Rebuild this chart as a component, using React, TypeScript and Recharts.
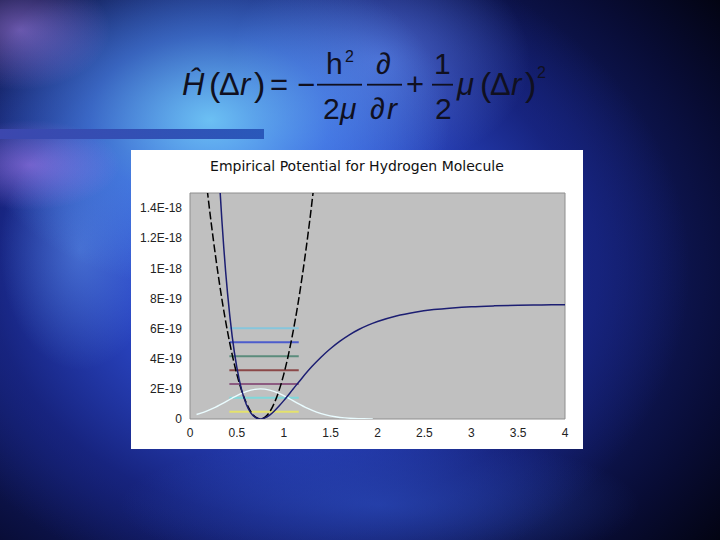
import React from "react";
import { LineChart, Line, XAxis, YAxis, ReferenceArea } from "recharts";

// ---- axis ticks (energy values in units of 1E-19 J, distance in Å) ----
const xTicks = [0, 0.5, 1, 1.5, 2, 2.5, 3, 3.5, 4];
const xTickLabels = ["0", "0.5", "1", "1.5", "2", "2.5", "3", "3.5", "4"];
const yTicks = [0, 2, 4, 6, 8, 10, 12, 14];
const yTickLabels = ["0", "2E-19", "4E-19", "6E-19", "8E-19", "1E-18", "1.2E-18", "1.4E-18"];

// ---- Morse-like empirical potential (navy solid) ----
const morseR = [0.28, 0.3, 0.32, 0.34, 0.36, 0.38, 0.4, 0.45, 0.5, 0.55, 0.6, 0.65, 0.7, 0.75, 0.8, 0.85, 0.9, 0.95, 1.0, 1.1, 1.2, 1.3, 1.4, 1.5, 1.6, 1.7, 1.8, 1.9, 2.0, 2.2, 2.4, 2.6, 2.8, 3.0, 3.25, 3.5, 3.75, 4.0];
const morseV = [19.97, 17.46, 15.21, 13.19, 11.4, 9.79, 8.37, 5.49, 3.41, 1.95, 0.985, 0.393, 0.088, 0, 0.072, 0.261, 0.533, 0.86, 1.22, 1.99, 2.76, 3.48, 4.12, 4.68, 5.17, 5.59, 5.94, 6.23, 6.47, 6.84, 7.09, 7.26, 7.37, 7.45, 7.51, 7.55, 7.57, 7.58];

// ---- harmonic approximation (black dashed) ----
const harmR = [0.17, 0.2, 0.25, 0.3, 0.35, 0.4, 0.45, 0.5, 0.55, 0.6, 0.65, 0.7, 0.75, 0.8, 0.85, 0.9, 0.95, 1.0, 1.05, 1.1, 1.15, 1.2, 1.25, 1.3, 1.33];
const harmV = [15.95, 14.34, 11.85, 9.6, 7.58, 5.81, 4.27, 2.96, 1.9, 1.07, 0.47, 0.12, 0, 0.12, 0.47, 1.07, 1.9, 2.96, 4.27, 5.81, 7.58, 9.6, 11.85, 14.34, 15.95];

// ---- ground-state wavefunction (white) ----
const waveR = [0.07, 0.15, 0.25, 0.35, 0.45, 0.55, 0.65, 0.75, 0.85, 0.95, 1.05, 1.15, 1.25, 1.35, 1.45, 1.55, 1.65, 1.75, 1.85, 1.95];
const waveV = [0.3, 0.46, 0.72, 1.04, 1.39, 1.7, 1.92, 2.0, 1.92, 1.7, 1.39, 1.04, 0.72, 0.46, 0.27, 0.15, 0.073, 0.034, 0.014, 0.006];

// ---- vibrational energy levels ----
const levelR = [0.42, 1.16];
const levelValues = [0.48, 1.41, 2.33, 3.24, 4.17, 5.09, 6.02];
const levelColors = ["#e4e26c", "#7fd8da", "#8c5a80", "#8b4848", "#5b8c7c", "#4d5ccc", "#86c6dc"];

const toPts = (xs: number[], ys: number[]) => xs.map((x, i) => ({ x, y: ys[i] }));

const morseData = toPts(morseR, morseV);
const harmData = toPts(harmR, harmV);
const waveData = toPts(waveR, waveV);

const xFmt = (v: number) => {
  const i = xTicks.indexOf(v);
  return i >= 0 ? xTickLabels[i] : String(v);
};
const yFmt = (v: number) => {
  const i = yTicks.indexOf(v);
  return i >= 0 ? yTickLabels[i] : String(v);
};

const tickStyle = { fontFamily: "Liberation Sans, Arial, sans-serif", fontSize: 12, fill: "#222" };

const bg = [
  "radial-gradient(ellipse 90px 60px at 20px 30px, rgba(180,140,250,0.55), rgba(180,140,250,0) 100%)",
  "radial-gradient(ellipse 90px 45px at 30px 165px, rgba(190,130,250,0.5), rgba(190,130,250,0) 100%)",
  "radial-gradient(ellipse 240px 170px at 210px 120px, rgba(120,215,255,0.85), rgba(90,165,255,0.5) 50%, rgba(80,140,255,0) 100%)",
  "radial-gradient(ellipse 80px 120px at 80px 250px, rgba(110,170,250,0.45), rgba(110,170,250,0) 100%)",
  "radial-gradient(ellipse 150px 110px at 380px 60px, rgba(110,150,255,0.55), rgba(110,150,255,0) 100%)",
  "radial-gradient(ellipse 260px 70px at 380px 505px, rgba(50,90,210,0.5), rgba(50,90,210,0) 100%)",
  "radial-gradient(ellipse 400px 330px at 290px 270px, #3a64e2 0%, #2a46c4 40%, rgba(26,40,140,0.6) 75%, rgba(20,30,110,0) 100%)",
  "radial-gradient(ellipse 560px 440px at 290px 270px, #1d2f9c 0%, #121d6a 55%, #080c34 82%, #02030f 100%)",
].join(",");

const fTxt = { fontFamily: "Liberation Sans, Arial, sans-serif", fill: "#101020" } as const;

function Formula() {
  return (
    <svg width={720} height={150} style={{ position: "absolute", left: 0, top: 0 }}>
      <g {...fTxt}>
        <text x={182} y={94.5} fontSize={31} fontStyle="italic">Ĥ</text>
        <text x={209} y={96} fontSize={34}>(</text>
        <text x={219} y={94.5} fontSize={31}>Δ</text>
        <text x={240} y={94.5} fontSize={31} fontStyle="italic">r</text>
        <text x={254} y={96} fontSize={34}>)</text>
        <text x={270} y={94.5} fontSize={31}>=</text>
        <text x={297} y={94.5} fontSize={31}>−</text>
        <rect x={317} y={83.8} width={45} height={1.8} fill="#101020" />
        <text x={326} y={74} fontSize={30}>h</text>
        <text x={345} y={62} fontSize={16}>2</text>
        <text x={323} y={119} fontSize={30}>2</text>
        <text x={340} y={119} fontSize={30} fontStyle="italic">μ</text>
        <rect x={367} y={83.8} width={35} height={1.8} fill="#101020" />
        <text x={376} y={74} fontSize={30}>∂</text>
        <text x={370} y={119} fontSize={30}>∂</text>
        <text x={387} y={119} fontSize={30} fontStyle="italic">r</text>
        <text x={406} y={94.5} fontSize={31}>+</text>
        <rect x={432} y={83.8} width={21} height={1.8} fill="#101020" />
        <text x={434} y={74} fontSize={30}>1</text>
        <text x={435} y={119} fontSize={30}>2</text>
        <text x={457} y={94.5} fontSize={31} fontStyle="italic">μ</text>
        <text x={480} y={96} fontSize={34}>(</text>
        <text x={490} y={94.5} fontSize={31}>Δ</text>
        <text x={511} y={94.5} fontSize={31} fontStyle="italic">r</text>
        <text x={525} y={96} fontSize={34}>)</text>
        <text x={537} y={78} fontSize={16}>2</text>
      </g>
    </svg>
  );
}

export default function App() {
  return (
    <div
      style={{
        position: "absolute",
        left: 0,
        top: 0,
        width: 720,
        height: 540,
        overflow: "hidden",
        background: bg,
      }}
    >
      <Formula />
      <div
        style={{
          position: "absolute",
          left: 0,
          top: 129,
          width: 264,
          height: 10,
          background: "linear-gradient(90deg, #3c47ae, #2a58ba)",
        }}
      />
      <div
        style={{
          position: "absolute",
          left: 131,
          top: 150,
          width: 452,
          height: 299,
          background: "#ffffff",
        }}
      >
        <svg width={452} height={30} style={{ position: "absolute", left: 0, top: 0 }}>
          <text
            x={226}
            y={21}
            textAnchor="middle"
            fontFamily="DejaVu Sans, sans-serif"
            fontSize={14}
            fill="#111"
          >
            Empirical Potential for Hydrogen Molecule
          </text>
        </svg>
        <LineChart width={452} height={299} margin={{ top: 43, right: 18, bottom: 0, left: 0 }}>
          <XAxis
            type="number"
            dataKey="x"
            domain={[0, 4]}
            ticks={xTicks}
            tickFormatter={xFmt}
            allowDataOverflow
            axisLine={false}
            tickLine={false}
            tick={tickStyle}
            tickMargin={3}
            height={30}
          />
          <YAxis
            type="number"
            dataKey="y"
            domain={[0, 15]}
            ticks={yTicks}
            tickFormatter={yFmt}
            allowDataOverflow
            axisLine={false}
            tickLine={false}
            tick={tickStyle}
            width={59}
          />
          <ReferenceArea x1={0} x2={4} y1={0} y2={15} fill="#c0c0c0" fillOpacity={1} stroke="#8e8e8e" strokeWidth={1} />
          {levelValues.map((lv, i) => (
            <Line
              key={"lv" + i}
              data={levelR.map((x) => ({ x, y: lv }))}
              dataKey="y"
              stroke={levelColors[i]}
              strokeWidth={2}
              dot={false}
              activeDot={false}
              isAnimationActive={false}
            />
          ))}
          <Line
            data={waveData}
            dataKey="y"
            type="monotone"
            stroke="#eafcff"
            strokeWidth={1.4}
            dot={false}
            activeDot={false}
            isAnimationActive={false}
          />
          <Line
            data={harmData}
            dataKey="y"
            type="monotone"
            stroke="#000000"
            strokeWidth={1.5}
            strokeDasharray="8 3"
            dot={false}
            activeDot={false}
            isAnimationActive={false}
          />
          <Line
            data={morseData}
            dataKey="y"
            type="monotone"
            stroke="#1c1e72"
            strokeWidth={1.5}
            dot={false}
            activeDot={false}
            isAnimationActive={false}
          />
        </LineChart>
      </div>
    </div>
  );
}
